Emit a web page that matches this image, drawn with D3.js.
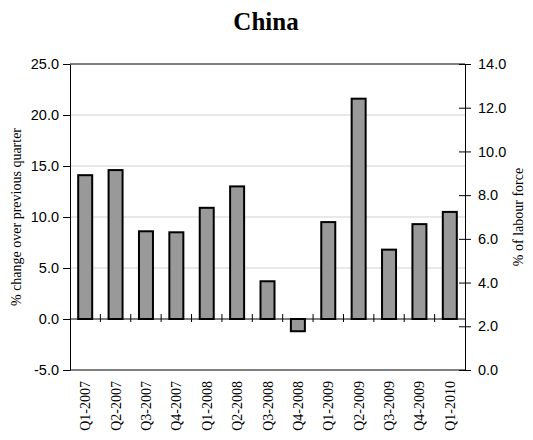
<!DOCTYPE html>
<html>
<head>
<meta charset="utf-8">
<script src="https://cdn.jsdelivr.net/npm/d3@7"></script>
<style>
body { margin: 0; background: #fff; }
svg { display: block; }
</style>
</head>
<body>
<svg id="chart" width="533" height="440"></svg>
<script>
var quarters = ['Q1-2007', 'Q2-2007', 'Q3-2007', 'Q4-2007', 'Q1-2008', 'Q2-2008', 'Q3-2008',
  'Q4-2008', 'Q1-2009', 'Q2-2009', 'Q3-2009', 'Q4-2009', 'Q1-2010'];
var change = [14.1, 14.6, 8.6, 8.5, 10.9, 13.0, 3.7, -1.2, 9.5, 21.6, 6.8, 9.3, 10.5];
var leftTicks = [-5, 0, 5, 10, 15, 20, 25];
var rightTicks = [0, 2, 4, 6, 8, 10, 12, 14];

var plotLeft = 70, plotRight = 465, plotTop = 64, plotBottom = 370;
var serif = '"Liberation Serif", "Times New Roman", serif';
var sans = '"Liberation Sans", Arial, sans-serif';
var fmt = function(d) { return d.toFixed(1); };

var svg = d3.select('#chart');

var x = d3.scaleBand().domain(quarters).range([plotLeft, plotRight]);
var y = d3.scaleLinear().domain([-5, 25]).range([plotBottom, plotTop]);
var y2 = d3.scaleLinear().domain([0, 14]).range([plotBottom, plotTop]);

// title
svg.append('text')
  .attr('x', 266).attr('y', 30)
  .attr('text-anchor', 'middle')
  .style('font-family', serif)
  .style('font-weight', 'bold')
  .style('font-size', '25px')
  .text('China');

// gridlines
svg.append('g').selectAll('line')
  .data([5, 10, 15, 20])
  .enter().append('line')
  .attr('x1', plotLeft).attr('x2', plotRight)
  .attr('y1', function(d) { return y(d); })
  .attr('y2', function(d) { return y(d); })
  .attr('stroke', '#e0e0e0')
  .attr('stroke-width', 1.5);

// top frame line
svg.append('line')
  .attr('x1', plotLeft).attr('x2', plotRight)
  .attr('y1', plotTop).attr('y2', plotTop)
  .attr('stroke', 'black');

// bars
var bw = 14;
svg.append('g').selectAll('rect')
  .data(change)
  .enter().append('rect')
  .attr('x', function(d, i) { return x(quarters[i]) + x.bandwidth() / 2 - bw / 2; })
  .attr('y', function(d) { return y(Math.max(0, d)); })
  .attr('width', bw)
  .attr('height', function(d) { return Math.abs(y(d) - y(0)); })
  .attr('fill', '#999999')
  .attr('stroke', 'black')
  .attr('stroke-width', 2);

// left axis
var gl = svg.append('g')
  .attr('transform', 'translate(' + plotLeft + ',0)')
  .call(d3.axisLeft(y).tickValues(leftTicks).tickSize(7).tickSizeOuter(0)
    .tickFormat(fmt));
gl.selectAll('text')
  .style('font-family', sans)
  .style('font-size', '14.5px')
  .attr('fill', 'black')
  .attr('x', -11);

// right axis
var gr = svg.append('g')
  .attr('transform', 'translate(' + plotRight + ',0)')
  .call(d3.axisRight(y2).tickValues(rightTicks).tickSize(6).tickSizeOuter(0)
    .tickFormat(fmt));
gr.selectAll('.tick line').attr('x1', -6);
gr.selectAll('text')
  .style('font-family', sans)
  .style('font-size', '14.5px')
  .attr('fill', 'black')
  .attr('x', 13);

// bottom frame line
svg.append('line')
  .attr('x1', plotLeft).attr('x2', plotRight)
  .attr('y1', plotBottom).attr('y2', plotBottom)
  .attr('stroke', 'black');

// zero axis with ticks between categories
svg.append('line')
  .attr('x1', plotLeft).attr('x2', plotRight)
  .attr('y1', y(0)).attr('y2', y(0))
  .attr('stroke', 'black');
svg.append('g').selectAll('line')
  .data(quarters.slice(1))
  .enter().append('line')
  .attr('x1', function(d) { return x(d); })
  .attr('x2', function(d) { return x(d); })
  .attr('y1', y(0) - 5).attr('y2', y(0) + 3)
  .attr('stroke', 'black');

// category labels
svg.append('g').selectAll('text')
  .data(quarters)
  .enter().append('text')
  .attr('transform', function(d) {
    return 'translate(' + (x(d) + x.bandwidth() / 2 + 5) + ',' + (plotBottom + 11) + ') rotate(-90)';
  })
  .attr('text-anchor', 'end')
  .style('font-family', serif)
  .style('font-size', '14px')
  .text(function(d) { return d; });

// axis titles
svg.append('text')
  .attr('transform', 'translate(21,' + ((plotTop + plotBottom) / 2) + ') rotate(-90)')
  .attr('text-anchor', 'middle')
  .style('font-family', serif)
  .style('font-size', '14px')
  .text('% change over previous quarter');

svg.append('text')
  .attr('transform', 'translate(523,' + ((plotTop + plotBottom) / 2) + ') rotate(-90)')
  .attr('text-anchor', 'middle')
  .style('font-family', serif)
  .style('font-size', '14px')
  .text('% of labour force');
</script>
</body>
</html>
